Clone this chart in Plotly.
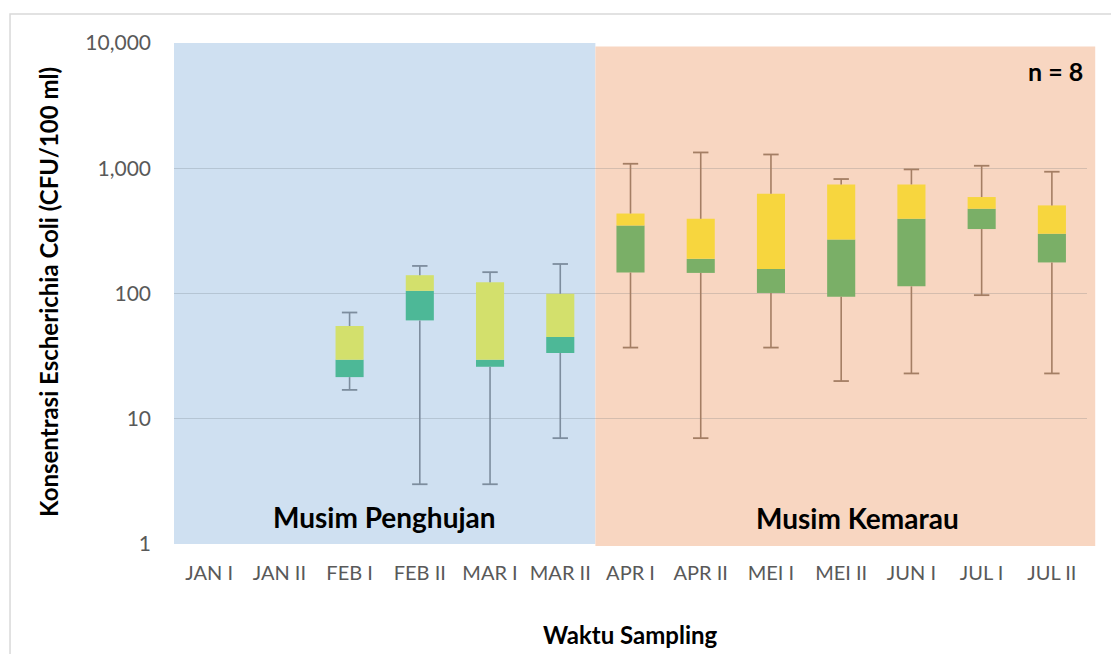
import plotly.graph_objects as go

# Sampling periods and box statistics (CFU/100 ml)
categories = ["JAN I", "JAN II", "FEB I", "FEB II", "MAR I", "MAR II",
              "APR I", "APR II", "MEI I", "MEI II", "JUN I", "JUL I", "JUL II"]
minimum = [None, None, 17, 3, 3, 7, 37, 7, 37, 20, 23, 97, 23]
q1 = [None, None, 21.5, 61, 26, 33.5, 147, 146, 101, 94, 114, 327, 177]
median = [None, None, 29.6, 105, 29.6, 45, 349, 189, 157, 270, 395, 475, 300]
q3 = [None, None, 55, 140, 123, 99.5, 435, 395, 626, 743, 743, 589, 505]
maximum = [None, None, 70.5, 166, 148, 172, 1086, 1337, 1288, 820, 979, 1047, 938]
season = ["hujan"] * 6 + ["kemarau"] * 7

y_ticks = [1, 10, 100, 1000, 10000]

styles = {
    "hujan": dict(lower="#4DB897", upper="#D3E06C", whisker="#7D8D9E"),
    "kemarau": dict(lower="#7AAF67", upper="#F7D63E", whisker="#A47E64"),
}

FONT = "Lato"
fig = go.Figure()

for s, st in styles.items():
    idx = [i for i, v in enumerate(season) if v == s and median[i] is not None]
    xs = [categories[i] for i in idx]
    # lower part of the box: Q1 -> median
    fig.add_trace(go.Bar(
        x=xs, base=[q1[i] for i in idx], y=[median[i] - q1[i] for i in idx],
        marker=dict(color=st["lower"], line=dict(width=0)), width=0.4))
    # upper part of the box: median -> Q3
    fig.add_trace(go.Bar(
        x=xs, base=[median[i] for i in idx], y=[q3[i] - median[i] for i in idx],
        marker=dict(color=st["upper"], line=dict(width=0)), width=0.4))
    # whisker stems
    wx, wy = [], []
    for i in idx:
        wx += [categories[i], categories[i], None, categories[i], categories[i], None]
        wy += [q3[i], maximum[i], None, q1[i], minimum[i], None]
    fig.add_trace(go.Scatter(x=wx, y=wy, mode="lines",
                             line=dict(color=st["whisker"], width=1.6),
                             hoverinfo="skip"))
    # whisker caps
    fig.add_trace(go.Scatter(
        x=xs + xs, y=[maximum[i] for i in idx] + [minimum[i] for i in idx],
        mode="markers",
        marker=dict(symbol="line-ew", size=11,
                    line=dict(color=st["whisker"], width=1.8))))

n_cat = len(categories)
n_hujan = season.count("hujan")
split = n_hujan / n_cat

shapes = [
    # rainy season background
    dict(type="rect", xref="paper", yref="paper", x0=0, x1=split, y0=0, y1=1,
         fillcolor="#CFE0F1", line=dict(width=0), layer="below"),
    # dry season background
    dict(type="rect", xref="paper", yref="paper", x0=split, x1=1.009,
         y0=-0.004, y1=0.993, fillcolor="#F8D6C1", line=dict(width=0),
         layer="below"),
    # outer chart frame
    dict(type="rect", xref="paper", yref="paper", x0=-0.1796, x1=1.3,
         y0=-0.4, y1=1.058, fillcolor="rgba(0,0,0,0)",
         line=dict(color="#D9D9D9", width=1.5), layer="below"),
]

annotations = [
    dict(text="n = 8", xref="paper", yref="paper", x=0.998, y=0.944,
         xanchor="right", yanchor="middle", showarrow=False,
         font=dict(family=FONT, size=25, color="#000000", weight="bold")),
    dict(text="Musim Penghujan", xref="paper", yref="paper", x=0.231, y=0.054,
         xanchor="center", yanchor="middle", showarrow=False,
         font=dict(family=FONT, size=28, color="#000000", weight="bold")),
    dict(text="Musim Kemarau", xref="paper", yref="paper", x=0.749, y=0.052,
         xanchor="center", yanchor="middle", showarrow=False,
         font=dict(family=FONT, size=28, color="#000000", weight="bold")),
    dict(text="Waktu Sampling", xref="paper", yref="paper", x=0.5, y=-0.1816,
         xanchor="center", yanchor="middle", showarrow=False,
         font=dict(family=FONT, size=24, color="#000000", weight="bold")),
    dict(text="Konsentrasi Escherichia Coli (CFU/100 ml)", xref="paper",
         yref="paper", x=-0.137, y=0.503, textangle=-90,
         xanchor="center", yanchor="middle", showarrow=False,
         font=dict(family=FONT, size=24, color="#000000", weight="bold")),
]

fig.update_layout(
    width=1111, height=654,
    margin=dict(l=174, r=24, t=43, b=110),
    paper_bgcolor="white", plot_bgcolor="rgba(0,0,0,0)",
    showlegend=False, barmode="overlay",
    shapes=shapes, annotations=annotations,
    font=dict(family=FONT),
    xaxis=dict(type="category", categoryorder="array", categoryarray=categories,
               range=[-0.5, n_cat - 0.5], showgrid=False, showline=False,
               zeroline=False, ticks="", ticklabelstandoff=15,
               tickfont=dict(family=FONT, size=20, color="#595959")),
    yaxis=dict(type="log", range=[0, 4], tickvals=y_ticks, tickformat=",d",
               showgrid=True, gridcolor="rgba(90,100,110,0.22)", gridwidth=1.2,
               zeroline=False, showline=False, ticks="", ticklabelstandoff=22,
               tickfont=dict(family=FONT, size=21, color="#595959")),
)

fig.write_html("out.html")
